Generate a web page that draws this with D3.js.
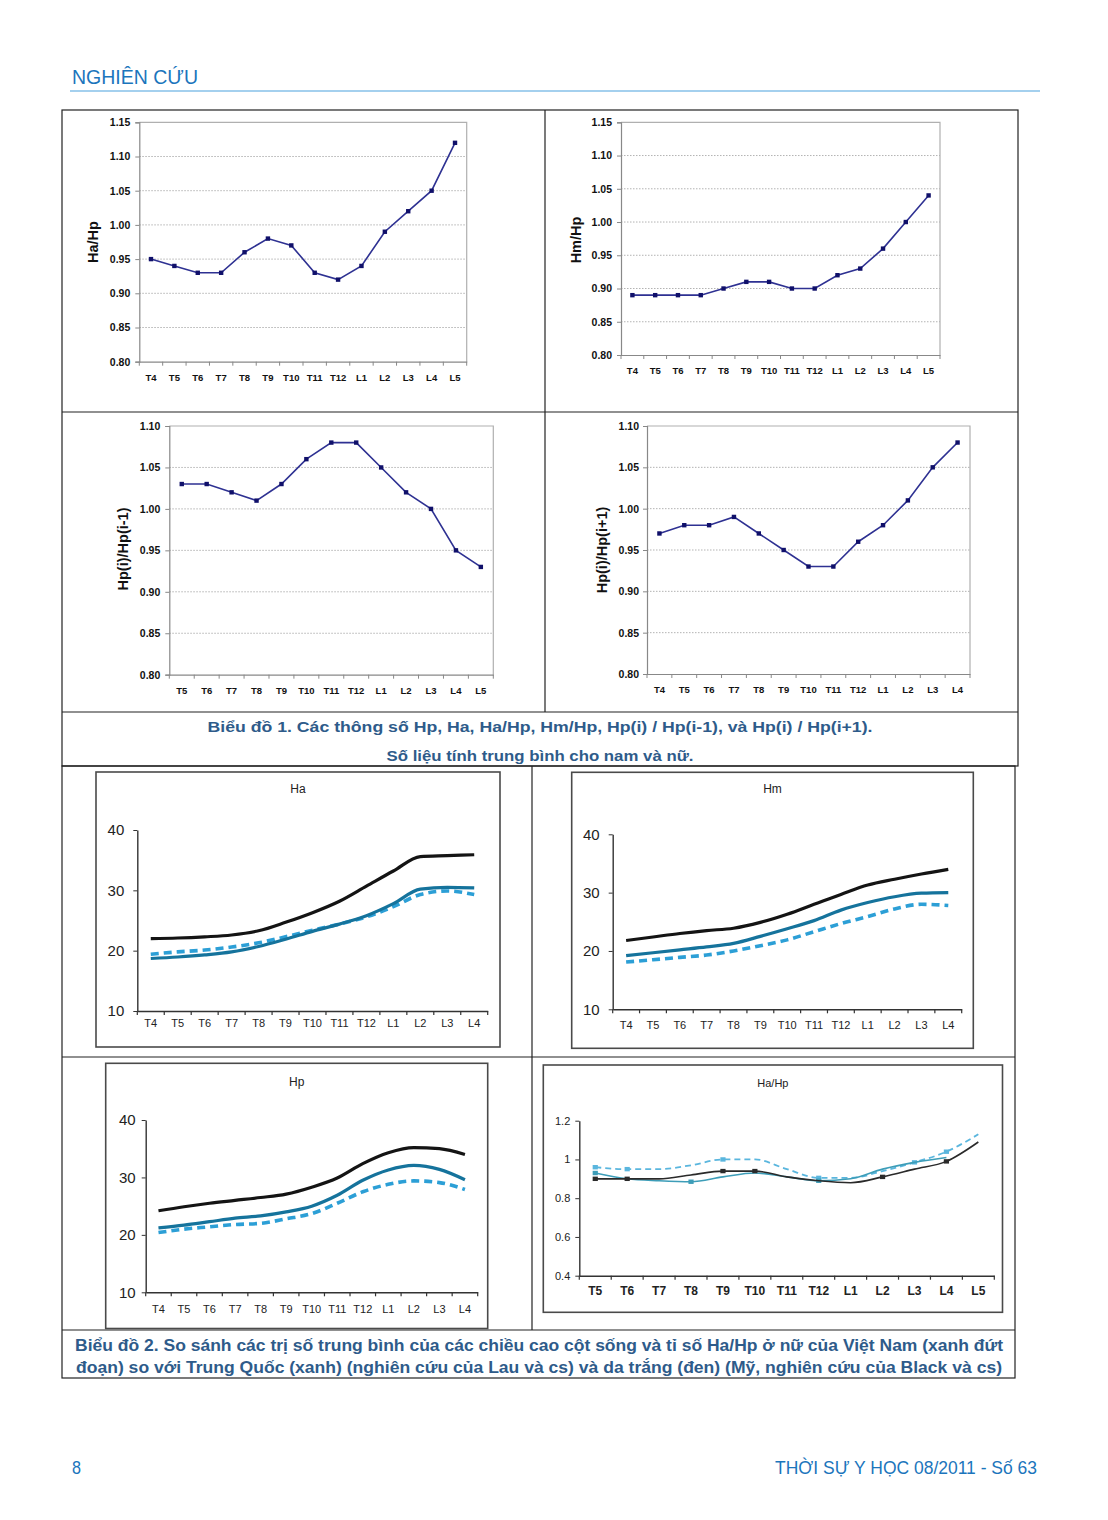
<!DOCTYPE html>
<html><head><meta charset="utf-8">
<script src="https://cdn.jsdelivr.net/npm/d3@7"></script>
<style>body{margin:0;background:#fff}svg{display:block}</style>
</head><body>
<svg id="page" width="1108" height="1520"></svg>
<script>
// ---------- DATA ----------
const catsT4L5 = ["T4","T5","T6","T7","T8","T9","T10","T11","T12","L1","L2","L3","L4","L5"];
const catsT5L5 = ["T5","T6","T7","T8","T9","T10","T11","T12","L1","L2","L3","L4","L5"];
const catsT4L4 = ["T4","T5","T6","T7","T8","T9","T10","T11","T12","L1","L2","L3","L4"];

const ratioTicksA = [0.80,0.85,0.90,0.95,1.00,1.05,1.10,1.15];
const ratioTicksB = [0.80,0.85,0.90,0.95,1.00,1.05,1.10];
const heightTicks = [10,20,30,40];
const haHpTicks = [0.4,0.6,0.8,1.0,1.2];

const haHpRatio   = [0.95,0.94,0.93,0.93,0.96,0.98,0.97,0.93,0.92,0.94,0.99,1.02,1.05,1.12];
const hmHpRatio   = [0.89,0.89,0.89,0.89,0.90,0.91,0.91,0.90,0.90,0.92,0.93,0.96,1.00,1.04];
const hpPrevRatio = [1.03,1.03,1.02,1.01,1.03,1.06,1.08,1.08,1.05,1.02,1.00,0.95,0.93];
const hpNextRatio = [0.97,0.98,0.98,0.99,0.97,0.95,0.93,0.93,0.96,0.98,1.01,1.05,1.08];

const haWhite   = [22.0,22.1,22.3,22.6,23.3,24.7,26.3,28.2,30.7,33.2,35.6,35.75,35.9];
const haChina   = [18.7,18.95,19.3,19.8,20.7,21.9,23.2,24.4,25.8,27.8,30.2,30.5,30.4];
const haVietnam = [19.4,19.8,20.1,20.6,21.3,22.3,23.4,24.4,25.6,27.3,29.3,29.9,29.3];

const hmWhite   = [21.8,22.4,23.0,23.5,23.9,24.9,26.3,28.0,29.7,31.3,32.3,33.2,34.0];
const hmChina   = [19.2,19.7,20.2,20.7,21.3,22.5,23.8,25.2,27.0,28.3,29.3,29.9,30.0];
const hmVietnam = [18.1,18.5,18.9,19.3,20.0,20.9,21.9,23.3,24.7,25.9,27.2,28.0,27.8];

const hpWhite   = [24.2,24.9,25.5,26.0,26.5,27.1,28.3,29.9,32.4,34.3,35.2,35.0,34.0];
const hpChina   = [21.2,21.7,22.3,22.9,23.3,24.0,25.0,26.9,29.5,31.3,32.1,31.4,29.6];
const hpVietnam = [20.4,21.0,21.4,21.8,22.0,22.8,23.7,25.5,27.5,28.8,29.4,29.1,27.9];

const haHpWhite   = [0.90,0.90,0.90,0.92,0.94,0.94,0.91,0.89,0.88,0.91,0.95,0.99,1.09];
const haHpChina   = [0.93,0.90,0.89,0.885,0.91,0.93,0.91,0.89,0.90,0.95,0.985,1.01];
const haHpVietnam = [0.96,0.95,0.95,0.97,1.00,1.00,0.95,0.905,0.905,0.94,0.985,1.04,1.13];

const headerText = "NGHIÊN CỨU";
const caption1 = ["Biểu đồ 1. Các thông số Hp, Ha, Ha/Hp, Hm/Hp, Hp(i) / Hp(i-1), và Hp(i) / Hp(i+1).",
                  "Số liệu tính trung bình cho nam và nữ."];
const caption2 = ["Biểu đồ 2. So sánh các trị số trung bình của các chiều cao cột sống và tỉ số Ha/Hp ở nữ của Việt Nam (xanh đứt",
                  "đoạn) so với Trung Quốc (xanh) (nghiên cứu của Lau và cs) và da trắng (đen) (Mỹ, nghiên cứu của Black và cs)"];
const footerLeft = "8";
const footerRight = "THỜI SỰ Y HỌC 08/2011 - Số 63";

// ---------- RENDER ----------
const svg = d3.select("#page");
const FONT = "'Liberation Sans', Arial, Helvetica, sans-serif";
const NARROW = "'Liberation Sans Narrow', 'Arial Narrow', 'Liberation Sans', Arial, sans-serif";
const BLUE = "#1b75bc";
const CAP = "#2e5b8a";

function ln(x1,y1,x2,y2,stroke,w){
  svg.append("line").attr("x1",x1).attr("y1",y1).attr("x2",x2).attr("y2",y2)
    .attr("stroke",stroke).attr("stroke-width",w);
}
function fitText(txt,x,y,width,size,color,weight,anchor){
  svg.append("text").attr("x",x).attr("y",y).text(txt)
    .attr("font-family",NARROW).attr("font-size",size).attr("font-weight",weight||"normal")
    .attr("fill",color).attr("text-anchor",anchor||"start")
    .attr("textLength",width).attr("lengthAdjust","spacingAndGlyphs");
}

// Header
fitText(headerText,72,84,126,20,BLUE,"normal");
ln(70,91,1040,91,"#86c0e8",1.3);

// Tables
const TB = "#222";
svg.append("rect").attr("x",62).attr("y",110).attr("width",956).attr("height",656).attr("fill","none").attr("stroke",TB).attr("stroke-width",1.2);
ln(62,412,1018,412,TB,1.2);
ln(62,712,1018,712,TB,1.2);
ln(545,110,545,712,TB,1.2);
svg.append("rect").attr("x",62).attr("y",766).attr("width",953).attr("height",612).attr("fill","none").attr("stroke",TB).attr("stroke-width",1.2);
ln(62,1057,1015,1057,TB,1.2);
ln(62,1330,1015,1330,TB,1.2);
ln(532,766,532,1330,TB,1.2);

// Captions
fitText(caption1[0],540,732,665,15.5,CAP,"bold","middle");
fitText(caption1[1],540,761,307,15.5,CAP,"bold","middle");
fitText(caption2[0],539,1351,928,16.5,CAP,"bold","middle");
fitText(caption2[1],539,1373,926,16.5,CAP,"bold","middle");

// Footer
fitText(footerLeft,72,1474,9,18,BLUE,"normal");
fitText(footerRight,1037,1474,262,18,BLUE,"normal","end");

// ---- Excel-style ratio charts ----
function excelChart(o){
  const g = svg.append("g");
  const x = d3.scaleBand().domain(o.cats).range([o.left,o.right]);
  const y = d3.scaleLinear().domain([o.ticks[0],o.ticks[o.ticks.length-1]]).range([o.bottom,o.topY]);
  g.selectAll("line.grid").data(o.ticks.slice(1,-1)).join("line")
    .attr("x1",o.left).attr("x2",o.right).attr("y1",d=>y(d)).attr("y2",d=>y(d))
    .attr("stroke","#b3b3b3").attr("stroke-width",1).attr("stroke-dasharray","1.5,1.5");
  g.append("path").attr("d",`M${o.left},${o.topY}H${o.right}V${o.bottom}`)
    .attr("fill","none").attr("stroke","#b0b0b0").attr("stroke-width",1.2);
  const ya = g.append("g").attr("transform",`translate(${o.left},0)`)
    .call(d3.axisLeft(y).tickValues(o.ticks).tickFormat(d3.format(".2f")).tickSize(4).tickPadding(o.yPad));
  ya.select(".domain").attr("stroke","#888").attr("stroke-width",1.2);
  ya.selectAll(".tick line").attr("stroke","#888");
  ya.selectAll("text").attr("font-family",FONT).attr("font-weight","bold").attr("font-size",10.5).attr("fill","#111");
  const xa = g.append("g").attr("transform",`translate(0,${o.bottom})`)
    .call(d3.axisBottom(x).tickSize(0).tickSizeOuter(0));
  xa.select(".domain").attr("stroke","#888").attr("stroke-width",1.2);
  xa.selectAll("text").attr("y",o.xLabDy).attr("dy","0.35em").attr("font-family",FONT)
    .attr("font-weight","bold").attr("font-size",9.5).attr("fill","#111");
  const bounds = o.cats.map(c=>x(c)).concat([o.right]);
  g.selectAll("line.bt").data(bounds).join("line")
    .attr("x1",d=>d).attr("x2",d=>d).attr("y1",o.bottom).attr("y2",o.bottom+4)
    .attr("stroke","#888").attr("stroke-width",1);
  const pts = o.cats.map((c,i)=>[x(c)+x.bandwidth()/2, y(o.vals[i])]);
  g.append("path").attr("d",d3.line()(pts)).attr("fill","none")
    .attr("stroke","#2e3192").attr("stroke-width",1.6);
  g.selectAll("rect.mk").data(pts).join("rect")
    .attr("x",d=>d[0]-2.2).attr("y",d=>d[1]-2.2).attr("width",4.4).attr("height",4.4)
    .attr("fill","#10106a");
  g.append("text").attr("transform",`translate(${o.ylabX},${o.ylabY}) rotate(-90)`)
    .attr("text-anchor","middle").attr("dy","0.35em").text(o.ylabel)
    .attr("font-family",FONT).attr("font-weight","bold").attr("font-size",14.5).attr("fill","#111");
}

excelChart({cats:catsT4L5, vals:haHpRatio, ticks:ratioTicksA, left:139.3, right:466.7, topY:122.3, bottom:361.7,
  yPad:5, xLabDy:16, ylabel:"Ha/Hp", ylabX:93, ylabY:242});
excelChart({cats:catsT4L5, vals:hmHpRatio, ticks:ratioTicksA, left:621, right:940, topY:122.3, bottom:355,
  yPad:5, xLabDy:15.5, ylabel:"Hm/Hp", ylabX:576, ylabY:240});
excelChart({cats:catsT5L5, vals:hpPrevRatio, ticks:ratioTicksB, left:169.3, right:493.3, topY:426, bottom:674.7,
  yPad:5, xLabDy:15.5, ylabel:"Hp(i)/Hp(i-1)", ylabX:123, ylabY:549});
excelChart({cats:catsT4L4, vals:hpNextRatio, ticks:ratioTicksB, left:647, right:970, topY:426, bottom:674,
  yPad:4, xLabDy:15.5, ylabel:"Hp(i)/Hp(i+1)", ylabX:602, ylabY:550});

// ---- Comparison charts ----
function compChart(o){
  const g = svg.append("g");
  g.append("rect").attr("x",o.fx0).attr("y",o.fy0).attr("width",o.fx1-o.fx0).attr("height",o.fy1-o.fy0)
    .attr("fill","#fff").attr("stroke","#4a4a4a").attr("stroke-width",1.6);
  g.append("text").attr("x",(o.fx0+o.fx1)/2).attr("y",o.titleY).attr("dy","0.35em")
    .attr("text-anchor","middle").text(o.title).attr("font-family",FONT)
    .attr("font-size",o.titleSize).attr("fill","#222");
  const x = d3.scaleBand().domain(o.cats).range([o.left,o.right]);
  const y = d3.scaleLinear().domain([o.ticks[0],o.ticks[o.ticks.length-1]]).range([o.bottom,o.topY]);
  const ya = g.append("g").attr("transform",`translate(${o.left},0)`)
    .call(d3.axisLeft(y).tickValues(o.ticks).tickFormat(o.fmt).tickSize(4).tickSizeOuter(0).tickPadding(o.yPad));
  ya.select(".domain").attr("stroke","#333").attr("stroke-width",1.4);
  ya.selectAll(".tick line").attr("stroke","#333");
  ya.selectAll("text").attr("font-family",FONT).attr("font-size",o.ySize).attr("fill","#222");
  const xa = g.append("g").attr("transform",`translate(0,${o.bottom})`)
    .call(d3.axisBottom(x).tickSize(0).tickSizeOuter(0));
  xa.select(".domain").attr("stroke","#333").attr("stroke-width",1.4);
  xa.selectAll("text").attr("y",o.xLabDy).attr("dy","0.35em").attr("font-family",FONT)
    .attr("font-size",o.xSize).attr("font-weight",o.xWeight).attr("fill","#222");
  const bounds = o.cats.map(c=>x(c)).concat([o.right]);
  g.selectAll("line.bt").data(bounds).join("line")
    .attr("x1",d=>d).attr("x2",d=>d).attr("y1",o.bottom).attr("y2",o.bottom+4)
    .attr("stroke","#333").attr("stroke-width",1.2);
  o.series.forEach(s=>{
    const pts = s.vals.map((v,i)=>[x(o.cats[i])+x.bandwidth()/2, y(v)]);
    g.append("path").attr("d",d3.line().curve(d3.curveMonotoneX)(pts)).attr("fill","none")
      .attr("stroke",s.color).attr("stroke-width",s.width)
      .attr("stroke-dasharray",s.dash||null).attr("stroke-linejoin","round");
    if (s.markers){
      g.selectAll(null).data(s.markers.map(i=>pts[i])).join("rect")
        .attr("x",d=>d[0]-2.6).attr("y",d=>d[1]-2.2).attr("width",5.2).attr("height",4.4)
        .attr("fill",s.color);
    }
  });
}

const BLACK = "#141414", TEAL = "#15739c", DASH = "#2c9fd6";
const fmtInt = d3.format("d");

compChart({cats:catsT4L4, ticks:heightTicks, fmt:fmtInt, title:"Ha", titleY:789, titleSize:12,
  fx0:96, fx1:500, fy0:772, fy1:1047,
  left:137.3, right:487.7, topY:830, bottom:1011, yPad:9, ySize:15, xSize:11, xWeight:"normal", xLabDy:12.5,
  series:[
    {vals:haVietnam, color:DASH, width:3.6, dash:"8,5"},
    {vals:haChina, color:TEAL, width:3.2},
    {vals:haWhite, color:BLACK, width:3.2}
  ]});
compChart({cats:catsT4L4, ticks:heightTicks, fmt:fmtInt, title:"Hm", titleY:789, titleSize:12,
  fx0:571.7, fx1:973.3, fy0:772.3, fy1:1048.3,
  left:612.7, right:961.7, topY:834.3, bottom:1009.3, yPad:9, ySize:15, xSize:11, xWeight:"normal", xLabDy:16,
  series:[
    {vals:hmVietnam, color:DASH, width:3.6, dash:"8,5"},
    {vals:hmChina, color:TEAL, width:3.2},
    {vals:hmWhite, color:BLACK, width:3.2}
  ]});
compChart({cats:catsT4L4, ticks:heightTicks, fmt:fmtInt, title:"Hp", titleY:1081.5, titleSize:12,
  fx0:105.7, fx1:487.7, fy0:1063.3, fy1:1328.5,
  left:145.7, right:477.7, topY:1120, bottom:1292.3, yPad:6, ySize:15, xSize:11, xWeight:"normal", xLabDy:16.5,
  series:[
    {vals:hpVietnam, color:DASH, width:3.6, dash:"8,5"},
    {vals:hpChina, color:TEAL, width:3.2},
    {vals:hpWhite, color:BLACK, width:3.2}
  ]});
compChart({cats:catsT5L5, ticks:haHpTicks, fmt:d=>d===1?"1":d3.format(".1f")(d), title:"Ha/Hp", titleY:1083.3, titleSize:11,
  fx0:543.3, fx1:1002.5, fy0:1065, fy1:1312.3,
  left:579.3, right:994.3, topY:1120.7, bottom:1275.7, yPad:5, ySize:11, xSize:12, xWeight:"bold", xLabDy:15.5,
  series:[
    {vals:haHpVietnam, color:"#5ab6de", width:1.8, dash:"6,4", markers:[0,1,4,7,10,11]},
    {vals:haHpChina, color:"#3d9db8", width:1.6, markers:[0,3,7]},
    {vals:haHpWhite, color:"#2a2a2a", width:1.6, markers:[0,1,4,5,9,11]}
  ]});
</script>
</body></html>
